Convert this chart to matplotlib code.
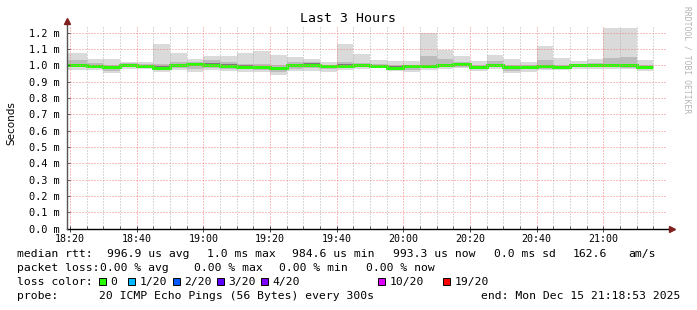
import matplotlib
matplotlib.use("Agg")
import matplotlib.pyplot as plt
import matplotlib.dates as mdates
from matplotlib.patches import Rectangle
import numpy as np
import pandas as pd

# smokeping style rtt chart, 5 minute steps, values in ms
t_start = pd.Timestamp("2025-12-15 18:19")
t_end = pd.Timestamp("2025-12-15 21:19")
bar_ends = pd.date_range("2025-12-15 18:25", "2025-12-15 21:15", freq="5min")

median = [1.002, 0.996, 0.990, 1.003, 0.995, 0.986, 1.001, 1.007, 1.004, 0.998,
          0.992, 0.990, 0.982, 1.000, 1.005, 0.996, 0.998, 1.000, 0.997, 0.986,
          0.997, 0.994, 1.003, 1.008, 0.988, 1.002, 0.988, 0.988, 0.997, 0.990,
          1.000, 1.003, 1.003, 1.000, 0.990]
smoke_max = [1.075, 1.037, 1.037, 1.020, 1.020, 1.129, 1.075, 1.040, 1.055, 1.057,
             1.075, 1.088, 1.061, 1.051, 1.040, 1.020, 1.129, 1.067, 1.030, 1.025,
             1.025, 1.200, 1.092, 1.057, 1.025, 1.065, 1.040, 1.020, 1.118, 1.045,
             1.025, 1.037, 1.227, 1.227, 1.030]
smoke_min = [0.969, 0.974, 0.953, 0.980, 0.980, 0.959, 0.970, 0.959, 0.970, 0.968,
             0.959, 0.959, 0.939, 0.965, 0.968, 0.962, 0.970, 0.980, 0.983, 0.963,
             0.959, 0.970, 0.975, 0.983, 0.968, 0.980, 0.955, 0.962, 0.970, 0.970,
             0.980, 0.980, 0.975, 0.975, 0.963]
q_hi = [1.030, 1.015, 1.005, 1.012, 1.008, 1.010, 1.020, 1.020, 1.030, 1.020,
        1.010, 1.010, 1.000, 1.020, 1.020, 1.005, 1.020, 1.015, 1.010, 1.005,
        1.005, 1.060, 1.040, 1.020, 1.005, 1.025, 1.005, 1.005, 1.030, 1.005,
        1.010, 1.015, 1.045, 1.050, 1.005]
q_lo = [0.990, 0.985, 0.965, 0.990, 0.985, 0.970, 0.985, 0.975, 0.985, 0.980,
        0.975, 0.970, 0.960, 0.980, 0.985, 0.975, 0.985, 0.990, 0.990, 0.975,
        0.970, 0.985, 0.990, 0.990, 0.975, 0.990, 0.965, 0.975, 0.980, 0.980,
        0.990, 0.990, 0.990, 0.985, 0.975]

y_ticks = [0.0, 0.1, 0.2, 0.3, 0.4, 0.5, 0.6, 0.7, 0.8, 0.9, 1.0, 1.1, 1.2]

loss_labels = ["0", "1/20", "2/20", "3/20", "4/20", "10/20", "19/20"]
loss_colors = ["#26ff00", "#00b8ff", "#0059ff", "#5e00ff", "#7e00ff", "#dd00ff", "#ff0000"]

MONO = "DejaVu Sans Mono"
W, H = 697, 310

fig = plt.figure(figsize=(W / 100, H / 100), dpi=100, facecolor="white")
ax = fig.add_axes([66.7 / W, 1 - 228.7 / H, 600 / W, 201.7 / H])
ax.set_facecolor("white")

edges = mdates.date2num([t_start] + list(bar_ends))
left = edges[:-1]
width = np.diff(edges)
med = np.array(median)

ax.bar(left, np.array(smoke_max) - np.array(smoke_min), bottom=smoke_min, width=width,
       align="edge", color="#dadada", linewidth=0)
ax.bar(left, np.array(q_hi) - np.array(q_lo), bottom=q_lo, width=width,
       align="edge", color="#bcbcbc", linewidth=0)
ax.bar(left, 0.016, bottom=med - 0.008, width=width,
       align="edge", color="#7c7c7c", linewidth=0)
ax.stairs(med, edges, baseline=None, color="#26ff00", linewidth=2.1)

ax.set_xlim(mdates.date2num(t_start), mdates.date2num(t_end))
ax.set_ylim(0, 1.235)

ax.xaxis.set_major_locator(mdates.MinuteLocator(byminute=[0, 20, 40]))
ax.xaxis.set_minor_locator(mdates.MinuteLocator(byminute=range(0, 60, 5)))
ax.xaxis.set_major_formatter(mdates.DateFormatter("%H:%M"))
ax.set_yticks(y_ticks)
ax.set_yticklabels(["%.1f m" % v for v in y_ticks])

for lab in ax.get_xticklabels():
    lab.set_fontfamily(MONO)
    lab.set_fontsize(7.2)
for lab in ax.get_yticklabels():
    lab.set_fontfamily(MONO)
    lab.set_fontsize(7.4)

ax.tick_params(axis="x", which="major", direction="inout", length=4, width=0.7,
               color="#444444", pad=2)
ax.tick_params(axis="x", which="minor", direction="in", length=2, width=0.6,
               color="#444444")
ax.tick_params(axis="y", which="major", direction="in", length=2, width=0.6,
               color="#444444", pad=5)

# dotted grids drawn on top of the smoke
ax.set_axisbelow(False)
ax.grid(which="major", axis="both", color="#f08080", linewidth=0.72,
        linestyle=(0, (1, 2)))
ax.grid(which="minor", axis="x", color="#b0b0b0", linewidth=0.72,
        linestyle=(0, (1, 2)))

for s in ax.spines.values():
    s.set_visible(False)
# axes with arrows like rrdtool
ax.plot([0, 1.006], [0, 0], transform=ax.transAxes, color="black", lw=1.0,
        clip_on=False, zorder=5)
ax.plot([0, 0], [0, 1.025], transform=ax.transAxes, color="#555555", lw=1.0,
        clip_on=False, zorder=5)
ax.plot([1.0095], [0], transform=ax.transAxes, marker=">", color="#7f1f1f",
        markersize=4, clip_on=False, zorder=6)
ax.plot([0], [1.03], transform=ax.transAxes, marker="^", color="#7f1f1f",
        markersize=4, clip_on=False, zorder=6)

fig.text(347.5 / W, 1 - 19 / H, "Last 3 Hours", fontsize=9.5, family=MONO,
         ha="center", va="center")
fig.text(11.7 / W, 1 - 123 / H, "Seconds", fontsize=7.5, family="DejaVu Sans",
         rotation=90, ha="center", va="center")
fig.text(687.3 / W, 1 - 60 / H, "RRDTOOL / TOBI OETIKER", fontsize=5.8, family=MONO,
         rotation=270, ha="center", va="center", color="#b4b4b4")

FS = 8.2


def put(x, y, s):
    fig.text(x / W, 1 - y / H, s, fontsize=FS, family=MONO, ha="left", va="center")


# legend rows
y1, y2, y3, y4 = 254, 268, 281.7, 295.7
put(16.7, y1, "median rtt:")
put(106.7, y1, "996.9 us avg")
put(207, y1, "1.0 ms max")
put(291.7, y1, "984.6 us min")
put(392.7, y1, "993.3 us now")
put(493.7, y1, "0.0 ms sd")
put(573, y1, "162.6")
put(628.7, y1, "am/s")

put(16.7, y2, "packet loss:")
put(100, y2, "0.00 % avg")
put(194, y2, "0.00 % max")
put(279.3, y2, "0.00 % min")
put(366, y2, "0.00 % now")

put(16.7, y3, "loss color:")
box_x = [99, 128.3, 172.7, 217, 261, 377.7, 442.7]
for bx, lab, col in zip(box_x, loss_labels, loss_colors):
    fig.patches.append(Rectangle((bx / W, 1 - (y3 + 3.5) / H), 7 / W, 7 / H,
                                 transform=fig.transFigure, facecolor=col,
                                 edgecolor="black", linewidth=0.7))
    put(bx + 11.7, y3, lab)

put(16.7, y4, "probe:")
put(99, y4, "20 ICMP Echo Pings (56 Bytes) every 300s")
fig.text(680.5 / W, 1 - y4 / H, "end: Mon Dec 15 21:18:53 2025", fontsize=FS,
         family=MONO, ha="right", va="center")

fig.savefig("out.png", dpi=100, facecolor="white")
